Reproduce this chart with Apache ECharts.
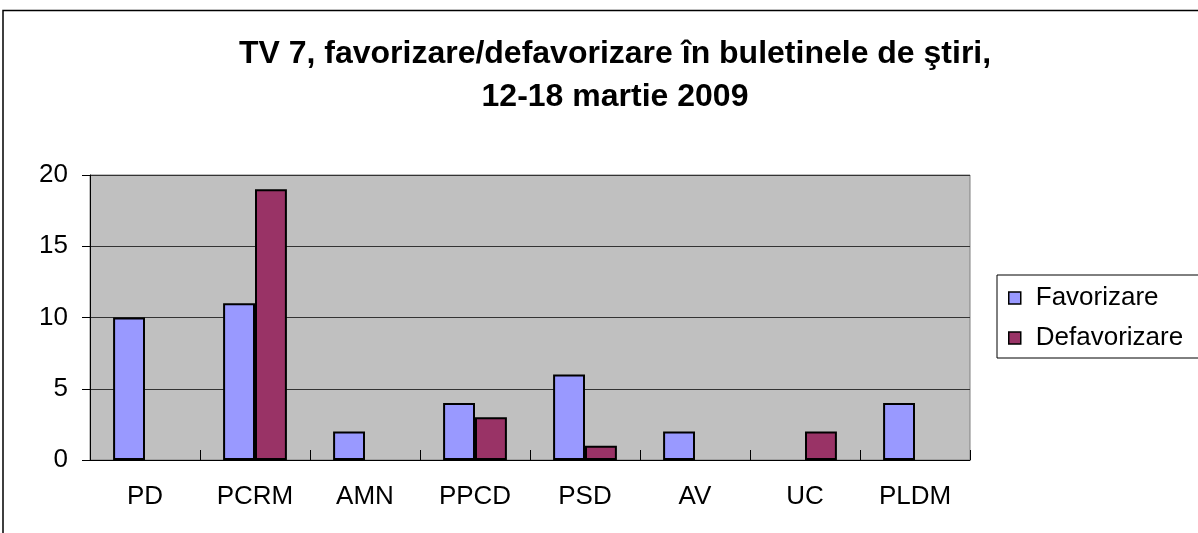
<!DOCTYPE html>
<html>
<head>
<meta charset="utf-8">
<script src="https://cdn.jsdelivr.net/npm/echarts@6/dist/echarts.min.js"></script>
<style>
  html, body { margin: 0; padding: 0; background: #fff; }
  #chart { width: 1198px; height: 533px; }
</style>
</head>
<body>
<div id="chart"></div>
<script>
const categories = ['PD', 'PCRM', 'AMN', 'PPCD', 'PSD', 'AV', 'UC', 'PLDM']
const favorizare = [10, 11, 2, 4, 6, 2, 0, 4]
const defavorizare = [0, 19, 0, 3, 1, 0, 2, 0]
const yTicks = [0, 5, 10, 15, 20]

const chart = echarts.init(document.getElementById('chart'))
const font = 'Arial, "Liberation Sans", sans-serif'

const barStyle = (color) => ({
  color: color,
  borderColor: '#000',
  borderWidth: 2
})

// zero values are not drawn in the original
const hideZero = (arr) => arr.map(v => v === 0 ? null : v)

chart.setOption({
  animation: false,
  backgroundColor: '#fff',
  textStyle: { fontFamily: font },
  title: {
    text: 'TV 7, favorizare/defavorizare în buletinele de ştiri,\n12-18 martie 2009',
    left: 610,
    top: 28,
    textAlign: 'center',
    textStyle: {
      fontSize: 32,
      fontWeight: 'bold',
      color: '#000',
      lineHeight: 43,
      fontFamily: font
    }
  },
  legend: {
    orient: 'vertical',
    left: 997,
    top: 275,
    width: 220,
    padding: [10, 30, 7, 11],
    itemGap: 14,
    itemWidth: 12,
    itemHeight: 12,
    borderColor: '#000',
    borderWidth: 1,
    textStyle: { fontSize: 26, lineHeight: 26, color: '#000', padding: [0, 0, 0, 10] },
    data: [
      { name: 'Favorizare', icon: 'rect', itemStyle: { borderColor: '#000', borderWidth: 1.5 } },
      { name: 'Defavorizare', icon: 'rect', itemStyle: { borderColor: '#000', borderWidth: 1.5 } }
    ]
  },
  grid: {
    left: 90,
    right: 228,
    top: 175,
    bottom: 73,
    show: true,
    backgroundColor: '#C0C0C0',
    borderColor: '#808080',
    borderWidth: 1
  },
  xAxis: {
    type: 'category',
    data: categories,
    axisLine: { lineStyle: { color: '#000', width: 1 } },
    axisTick: { show: true, inside: true, length: 10, lineStyle: { color: '#000' } },
    axisLabel: { fontSize: 26, color: '#000', margin: 24 }
  },
  yAxis: {
    type: 'value',
    min: yTicks[0],
    max: yTicks[yTicks.length - 1],
    interval: 5,
    axisLine: { show: true, lineStyle: { color: '#000', width: 1 } },
    axisTick: { show: true, length: 8, lineStyle: { color: '#000' } },
    axisLabel: { fontSize: 26, color: '#000', margin: 22 },
    splitLine: { lineStyle: { color: '#333', width: 1 } }
  },
  graphic: [
    {
      type: 'polyline',
      shape: { points: [[3, 533], [3, 10.5], [1198, 10.5]] },
      style: { stroke: '#000', lineWidth: 1.5, fill: null }
    }
  ],
  series: [
    {
      name: 'Favorizare',
      type: 'bar',
      data: hideZero(favorizare),
      barGap: '0%',
      barCategoryGap: '42%',
      itemStyle: barStyle('#9999FF')
    },
    {
      name: 'Defavorizare',
      type: 'bar',
      data: hideZero(defavorizare),
      barGap: '0%',
      barCategoryGap: '42%',
      itemStyle: barStyle('#993366')
    }
  ]
})
</script>
</body>
</html>
